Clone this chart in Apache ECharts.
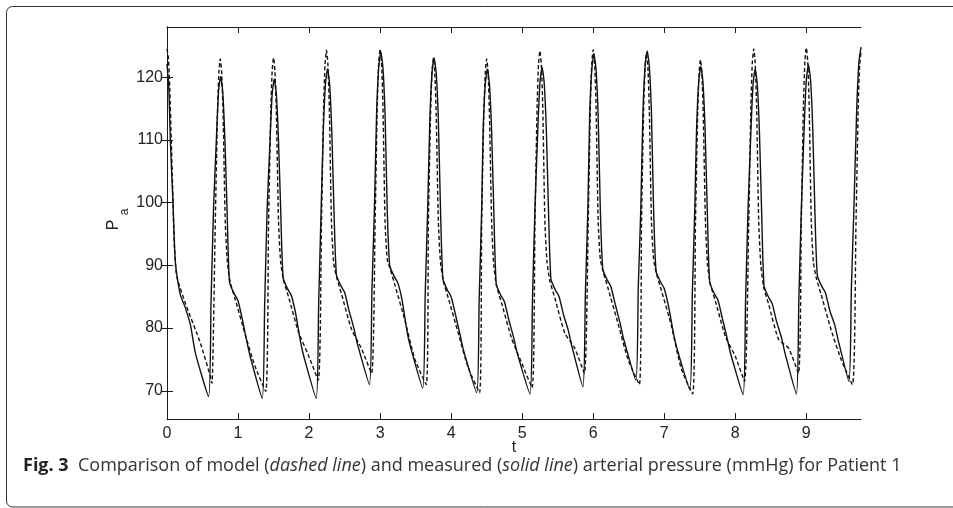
<!DOCTYPE html>
<html>
<head>
<meta charset="utf-8">
<style>
html,body{margin:0;padding:0;background:#fff;}
#chart{width:953px;height:508px;}
</style>
<script src="https://cdn.jsdelivr.net/npm/echarts@6/dist/echarts.min.js"></script>
</head>
<body>
<div id="chart"></div>
<script>
// Tick values
const xTicks = [0,1,2,3,4,5,6,7,8,9];
const yTicks = [70,80,90,100,110,120];

// Measured arterial pressure (solid line): [t, Pa]
const measured = [
[0,122.1],[0.025,118.5],[0.047,110],[0.084,100],[0.11,92],[0.13,89.2],[0.19,85.2],[0.25,83.5],[0.33,80.5],[0.40,76.0],[0.585,69.1],
[0.62,84.1],[0.655,99],[0.695,110.1],[0.725,117.6],[0.755,120.1],[0.785,117.6],[0.815,110.1],[0.845,99],[0.88,87.3],[0.945,85.5],[0.995,84.5],[1.055,81.7],[1.125,77.8],[1.175,75.3],[1.34,68.8],
[1.375,83.8],[1.41,99],[1.45,109.7],[1.48,117.2],[1.51,119.7],[1.54,117.2],[1.57,109.7],[1.60,99],[1.635,88],[1.70,86.2],[1.75,85.2],[1.81,82.4],[1.88,77.8],[1.93,75.3],[2.10,68.8],
[2.135,83.8],[2.17,99],[2.20,111.3],[2.23,118.8],[2.26,121.3],[2.29,118.8],[2.32,111.3],[2.35,99],[2.385,88.5],[2.45,86.7],[2.50,85.7],[2.56,82.9],[2.63,80.0],[2.68,77.5],[2.85,71.0],
[2.885,86],[2.92,99],[2.95,114],[2.98,121.5],[3.01,124],[3.04,121.5],[3.07,114],[3.10,99],[3.135,90],[3.20,88.2],[3.25,87.2],[3.31,84.4],[3.38,79.4],[3.43,76.9],[3.60,70.4],
[3.635,85.4],[3.67,99],[3.70,113.1],[3.73,120.6],[3.76,123.1],[3.79,120.6],[3.82,113.1],[3.85,99],[3.885,87.8],[3.95,86],[4.00,85],[4.06,82.2],[4.13,78.7],[4.18,76.2],[4.36,69.7],
[4.395,84.7],[4.43,99],[4.45,111.3],[4.48,118.8],[4.51,121.3],[4.54,118.8],[4.57,111.3],[4.60,99],[4.635,87],[4.70,85.2],[4.75,84.2],[4.81,81.4],[4.88,78.5],[4.93,76],[5.11,69.5],
[5.145,84.5],[5.18,99],[5.22,111.6],[5.25,119.1],[5.28,121.6],[5.31,119.1],[5.34,111.6],[5.37,99],[5.405,87.8],[5.47,86],[5.52,85],[5.58,82.2],[5.65,79.6],[5.70,77.1],[5.855,70.6],
[5.89,85.6],[5.925,99],[5.95,113.7],[5.98,121.2],[6.01,123.7],[6.04,121.2],[6.07,113.7],[6.10,99],[6.135,89.4],[6.20,87.6],[6.25,86.6],[6.31,83.8],[6.38,80.7],[6.43,78.2],[6.60,71.7],
[6.635,86.7],[6.67,99],[6.70,114.2],[6.73,121.7],[6.76,124.2],[6.79,121.7],[6.82,114.2],[6.85,99],[6.885,89.1],[6.95,87.3],[7.00,86.3],[7.06,83.5],[7.13,79.2],[7.18,76.7],[7.36,70.2],
[7.395,85.2],[7.43,99],[7.455,111.7],[7.485,119.2],[7.515,121.7],[7.545,119.2],[7.575,111.7],[7.605,99],[7.64,87.3],[7.705,85.5],[7.755,84.5],[7.815,81.7],[7.885,78.4],[7.935,75.9],[8.11,69.4],
[8.145,84.4],[8.18,99],[8.22,111.3],[8.25,118.8],[8.28,121.3],[8.31,118.8],[8.34,111.3],[8.37,99],[8.405,86.7],[8.47,84.9],[8.52,83.9],[8.58,81.1],[8.65,78.5],[8.70,76],[8.86,69.5],
[8.895,84.5],[8.93,99],[8.97,112],[9.00,119.5],[9.03,122],[9.06,119.5],[9.09,112],[9.12,99],[9.155,88.4],[9.22,86.6],[9.27,85.6],[9.33,82.8],[9.40,80.5],[9.45,78],[9.60,71.5],
[9.635,86.5],[9.67,99],[9.71,115],[9.74,122.3],[9.77,124.8]
];

// Model arterial pressure (dashed line): [t, Pa]
const model = [
[0,124.5],[0.02,123],[0.04,118],[0.06,110],[0.08,102],[0.10,94],[0.12,90],[0.14,88.1],[0.257,84],[0.47,77.6],[0.61,72.3],[0.633,71.2],
[0.68,97],[0.71,113.9],[0.73,120.7],[0.75,122.9],[0.77,120.7],[0.79,113.9],[0.82,97],[0.85,90.5],[0.89,87.3],[0.96,84.6],[1.10,79],[1.24,73.9],[1.39,69.9],
[1.43,97],[1.46,114.1],[1.48,120.9],[1.50,123.1],[1.52,120.9],[1.54,114.1],[1.57,97],[1.60,90.5],[1.64,87.7],[1.71,85],[1.85,79.4],[1.99,75.7],[2.13,71.7],
[2.175,97],[2.205,115.3],[2.225,122.1],[2.245,124.3],[2.265,122.1],[2.285,115.3],[2.315,97],[2.345,90.5],[2.385,88.2],[2.455,85.5],[2.595,79.9],[2.735,76.8],[2.88,72.8],
[2.93,97],[2.96,115.5],[2.98,122.3],[3.00,124.5],[3.02,122.3],[3.04,115.5],[3.07,97],[3.10,91],[3.14,89.5],[3.21,86.8],[3.35,81.2],[3.49,75],[3.65,71],
[3.68,97],[3.71,114],[3.73,120.8],[3.75,123],[3.77,120.8],[3.79,114],[3.82,97],[3.85,90.5],[3.89,87.5],[3.96,84.8],[4.10,79.2],[4.24,73.7],[4.40,69.7],
[4.43,97],[4.46,113.9],[4.48,120.7],[4.50,122.9],[4.52,120.7],[4.54,113.9],[4.57,97],[4.60,90],[4.64,86.7],[4.71,84],[4.85,78.4],[4.99,74.5],[5.14,70.5],
[5.18,97],[5.21,115.2],[5.23,122],[5.25,124.2],[5.27,122],[5.29,115.2],[5.32,97],[5.35,90.5],[5.39,87.5],[5.46,84.8],[5.60,79.2],[5.74,76.8],[5.875,72.8],
[5.93,97],[5.96,115.4],[5.98,122.2],[6.00,124.4],[6.02,122.2],[6.04,115.4],[6.07,97],[6.10,91],[6.14,89],[6.21,86.3],[6.35,80.7],[6.49,75],[6.65,71],
[6.68,97],[6.71,114.8],[6.73,121.6],[6.75,123.8],[6.77,121.6],[6.79,114.8],[6.82,97],[6.85,91],[6.89,88.7],[6.96,86],[7.10,80.4],[7.24,73.5],[7.40,69.5],
[7.44,97],[7.47,113.8],[7.49,120.6],[7.51,122.8],[7.53,120.6],[7.55,113.8],[7.58,97],[7.61,90],[7.65,87],[7.72,84.3],[7.86,78.7],[8.00,75.5],[8.13,71.5],
[8.19,97],[8.22,115.5],[8.24,122.3],[8.26,124.5],[8.28,122.3],[8.30,115.5],[8.33,97],[8.36,90],[8.40,86.5],[8.47,83.8],[8.61,78.2],[8.75,76.8],[8.89,72.8],
[8.93,97],[8.96,115.7],[8.98,122.5],[9.00,124.7],[9.02,122.5],[9.04,115.7],[9.07,97],[9.10,90.5],[9.14,88],[9.21,85.3],[9.35,79.7],[9.49,75],[9.65,71],
[9.70,97],[9.73,115],[9.75,121.8],[9.77,124]
];

const chart = echarts.init(document.getElementById('chart'), null, {renderer: 'canvas'});
const axisCol = '#1a1a1a';
const labelFont = {fontFamily: '"Liberation Sans", Arial, sans-serif', fontSize: 16, color: '#222'};
const X_MIN = 0, X_MAX = 9.77, Y_MIN = 65.5, Y_MAX = 128;
const capFont = '"Open Sans", "Noto Sans", sans-serif';
const capSize = 18;

chart.setOption({
  animation: false,
  backgroundColor: '#fff',
  grid: {left: 167, right: 92, top: 27, bottom: 89, containLabel: false},
  xAxis: [
    {type: 'value', position: 'bottom', min: X_MIN, max: X_MAX,
     axisLine: {show: true, lineStyle: {color: axisCol, width: 1}},
     axisTick: {show: true, inside: true, length: 6, customValues: xTicks, lineStyle: {color: axisCol}},
     axisLabel: {show: true, margin: 7, customValues: xTicks, ...labelFont},
     splitLine: {show: false}},
    {type: 'value', position: 'top', min: X_MIN, max: X_MAX,
     axisLine: {show: true, lineStyle: {color: axisCol, width: 1}},
     axisTick: {show: true, inside: true, length: 6, customValues: xTicks, lineStyle: {color: axisCol}},
     axisLabel: {show: false},
     splitLine: {show: false}}
  ],
  yAxis: [
    {type: 'value', position: 'left', min: Y_MIN, max: Y_MAX,
     axisLine: {show: true, lineStyle: {color: axisCol, width: 1}},
     axisTick: {show: true, inside: true, length: 6, customValues: yTicks, lineStyle: {color: axisCol}},
     axisLabel: {show: true, margin: 4, customValues: yTicks, ...labelFont},
     splitLine: {show: false}},
    {type: 'value', position: 'right', min: Y_MIN, max: Y_MAX,
     axisLine: {show: true, lineStyle: {color: axisCol, width: 1}},
     axisTick: {show: true, inside: true, length: 6, customValues: yTicks, lineStyle: {color: axisCol}},
     axisLabel: {show: false},
     splitLine: {show: false}}
  ],
  series: [
    {name: 'measured', type: 'line', data: measured, xAxisIndex: 0, yAxisIndex: 0,
     showSymbol: false, symbol: 'none', smooth: 0.2, clip: true,
     lineStyle: {color: '#111', width: 1.4, type: 'solid'}},
    {name: 'model', type: 'line', data: model, xAxisIndex: 0, yAxisIndex: 0,
     showSymbol: false, symbol: 'none', smooth: 0.2, clip: true,
     lineStyle: {color: '#111', width: 1.4, type: [4, 2.5]}}
  ],
  graphic: [
    {type: 'rect', silent: true, z: -1,
     shape: {x: 6.5, y: 6.5, width: 1000, height: 500.5, r: 6},
     style: {fill: 'none', stroke: '#333', lineWidth: 1}},
    {type: 'text', silent: true, x: 514, y: 448,
     style: {text: 't', font: '16px "Liberation Sans", Arial, sans-serif', fill: '#222', align: 'center', verticalAlign: 'middle'}},
    {type: 'text', silent: true, x: 114, y: 225, rotation: Math.PI / 2,
     style: {text: 'P', font: '16px "Liberation Sans", Arial, sans-serif', fill: '#222', align: 'center', verticalAlign: 'middle'}},
    {type: 'text', silent: true, x: 125, y: 212, rotation: Math.PI / 2,
     style: {text: 'a', font: '12px "Liberation Sans", Arial, sans-serif', fill: '#222', align: 'center', verticalAlign: 'middle'}},
    {type: 'text', silent: true, x: 23, y: 466,
     style: {
       text: '{b|Fig. 3}  {r|Comparison of model (}{i|dashed line}{r|) and measured (}{i|solid line}{r|) arterial pressure (mmHg) for Patient 1}',
       verticalAlign: 'middle', align: 'left',
       rich: {
         b: {fontFamily: capFont, fontSize: capSize, fontWeight: 'bold', fill: '#222'},
         r: {fontFamily: capFont, fontSize: capSize, fill: '#333'},
         i: {fontFamily: capFont, fontSize: capSize, fontStyle: 'italic', fill: '#333'}
       },
       fontFamily: capFont, fontSize: capSize, fill: '#333'
     }}
  ]
});
</script>
</body>
</html>
